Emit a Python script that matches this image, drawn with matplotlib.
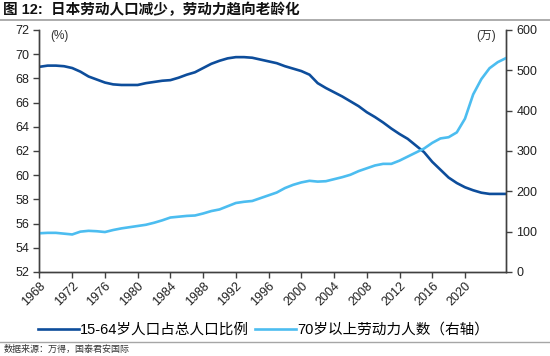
import matplotlib
matplotlib.use("Agg")
import matplotlib.pyplot as plt
from matplotlib.lines import Line2D

plt.rcParams["font.family"] = ["Liberation Sans", "Noto Sans CJK SC", "DejaVu Sans"]

# data
years = list(range(1968, 2026))
working_age_share = [
    68.95, 69.05, 69.05, 69.0, 68.85, 68.55, 68.15, 67.9, 67.65, 67.5,
    67.45, 67.45, 67.45, 67.6, 67.7, 67.8, 67.85, 68.05, 68.3, 68.5,
    68.85, 69.2, 69.45, 69.65, 69.75, 69.75, 69.7, 69.55, 69.4, 69.25,
    69.0, 68.8, 68.6, 68.3, 67.6, 67.2, 66.85, 66.5, 66.1, 65.7,
    65.2, 64.8, 64.35, 63.85, 63.4, 63.0, 62.45, 61.9, 61.1, 60.45,
    59.8, 59.35, 59.0, 58.75, 58.55, 58.45, 58.45, 58.45,
]
labor_70plus = [
    96, 97, 97, 95, 93, 100, 102, 101, 99, 104,
    108, 111, 114, 117, 122, 128, 135, 137, 139, 140,
    145, 151, 155, 163, 171, 174, 176, 183, 190, 197,
    208, 216, 222, 226, 224, 225, 230, 235, 241, 250,
    257, 264, 268, 268, 276, 286, 296, 306, 320, 331,
    334, 346, 380, 440, 478, 505, 520, 530,
]
left_ticks = list(range(52, 73, 2))
right_ticks = list(range(0, 601, 100))
year_ticks = list(range(1968, 2021, 4))

title = "图 12:  日本劳动人口减少，劳动力趋向老龄化"
label_left = "15-64岁人口占总人口比例"
label_right = "70岁以上劳动力人数（右轴）"
source = "数据来源：万得，国泰君安国际"

DARK = "#0d4d9b"
LIGHT = "#4cbdf0"

fig = plt.figure(figsize=(5.5, 3.56), dpi=100)
ax = fig.add_axes([0.0718, 0.236, 0.848, 0.680])
ax2 = ax.twinx()

ax.plot(years, working_age_share, color=DARK, lw=1.9)
ax2.plot(years, labor_70plus, color=LIGHT, lw=1.9)

ax.set_xlim(1968, 2025)
ax.set_ylim(52, 72)
ax.set_yticks(left_ticks)
ax2.set_ylim(0, 600)
ax2.set_yticks(right_ticks)
ax.set_xticks(year_ticks)
ax.set_xticklabels([str(y) for y in year_ticks], rotation=45, ha="right",
                   rotation_mode="anchor", fontsize=8.5)

for a in (ax, ax2):
    a.spines["top"].set_visible(False)
    for s in a.spines.values():
        s.set_color("#404040")
        s.set_linewidth(1.0)
    a.tick_params(direction="out", length=4, width=1.0, color="#404040",
                  labelsize=9, labelcolor="#202020")
ax.tick_params(axis="x", pad=2)

ax.text(0.042, 0.975, "(%)", transform=ax.transAxes, ha="center", va="center",
        fontsize=8.5, color="#303030")
ax2.text(0.957, 0.975, "(万)", transform=ax2.transAxes, ha="center", va="center",
         fontsize=8.5, color="#303030")

handles = [Line2D([], [], color=DARK, lw=1.9), Line2D([], [], color=LIGHT, lw=1.9)]
fig.legend(handles, [label_left, label_right], loc="center", ncol=2,
           bbox_to_anchor=(0.479, 0.073), frameon=False, fontsize=10.5,
           handlelength=2.8, handletextpad=0.1, columnspacing=0.4)

fig.text(0.006, 0.972, title, fontsize=10.5, fontweight="bold", va="center",
         color="#111111")
fig.add_artist(Line2D([0, 1], [0.944, 0.944], color="#a6a6a6", lw=1.3,
                      transform=fig.transFigure))
fig.add_artist(Line2D([0, 1], [0.039, 0.039], color="#a6a6a6", lw=1.0,
                      transform=fig.transFigure))
fig.text(0.006, 0.019, source, fontsize=6.5, va="center", color="#333333")

fig.savefig("out.png", dpi=100)
